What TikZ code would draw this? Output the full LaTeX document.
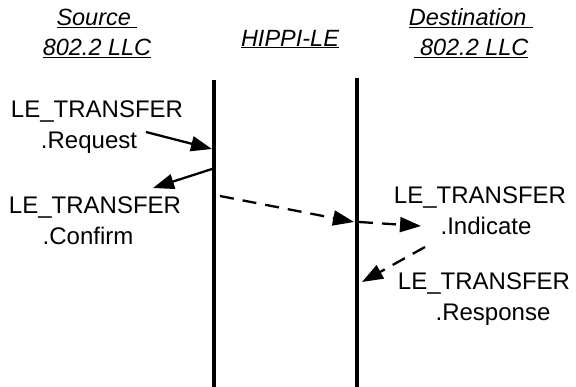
\documentclass[tikz,border=0pt]{standalone}
\usepackage{fontspec}
\setmainfont{Liberation Sans}
\usetikzlibrary{arrows.meta}
\begin{document}
\begin{tikzpicture}[x=1pt,y=-1pt]
	\tikzstyle{every node}=[font=\fontsize{24}{31}\selectfont, inner sep=0pt]
	\tikzstyle{header}=[font=\fontsize{23.5}{30}\selectfont\itshape, align=center]
	\tikzstyle{prim}=[align=center]
	\tikzstyle{lifeline}=[line width=4.5pt]
	\tikzstyle{msg}=[line width=2.3pt, -{Triangle[length=21pt,width=15pt]}]
	\tikzstyle{dmsg}=[msg, dash pattern=on 14pt off 9pt]
	
	\useasboundingbox (0,0) rectangle (576,387);
	
	\node[header] (src) at (97,33) {\underline{Source\ }\\\underline{802.2 LLC}};
	\node[header] (hip) at (290,39) {\underline{HIPPI-LE}};
	\node[header] (dst) at (471,33) {\underline{Destination\ }\\\underline{\ 802.2 LLC}};
	
	\coordinate (ltop) at (214,80);
	\coordinate (lbot) at (214,387);
	\coordinate (rtop) at (357,78);
	\coordinate (rbot) at (357,387);
	\draw[lifeline] (ltop) -- (lbot);
	\draw[lifeline] (rtop) -- (rbot);
	
	\node[prim] (req) at (97,127) {LE\_TRANSFER\\\mbox{.Request\hspace{16pt}}};
	\node[prim] (conf) at (95,221) {LE\_TRANSFER\\\mbox{.Confirm\hspace{14pt}}};
	\node[prim] (ind) at (480,211) {LE\_TRANSFER\\\hspace{12pt}.Indicate};
	\node[prim] (resp) at (484,299) {LE\_TRANSFER\\\hspace{18pt}.Response};
	
	\coordinate (reqa) at (146,132);
	\coordinate (reqb) at (212,149);
	\coordinate (confa) at (212,169);
	\coordinate (confb) at (153,188);
	\coordinate (hipa) at (220,196);
	\coordinate (hipb) at (354,222);
	\coordinate (inda) at (359,222);
	\coordinate (indb) at (421,226);
	\coordinate (respa) at (425,247);
	\coordinate (respb) at (362,282);
	
	\draw[msg] (reqa) -- (reqb);
	\draw[msg] (confa) -- (confb);
	\draw[dmsg] (hipa) -- (hipb);
	\draw[dmsg] (inda) -- (indb);
	\draw[dmsg] (respa) -- (respb);
	
\end{tikzpicture}
\end{document}
